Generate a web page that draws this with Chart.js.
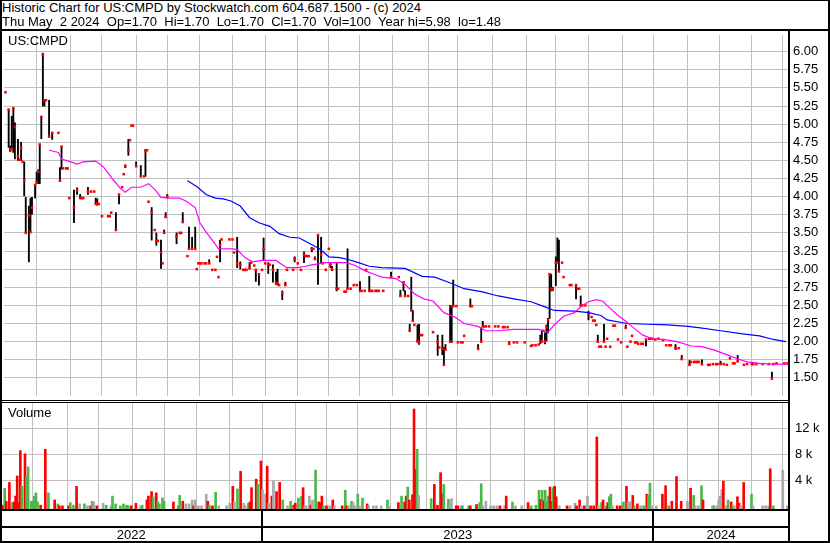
<!DOCTYPE html>
<html>
<head>
<meta charset="utf-8">
<script src="https://cdn.jsdelivr.net/npm/chart.js@4.4.1/dist/chart.umd.min.js"></script>
<style>
  body { margin: 0; background: #fff; }
  #page { position: relative; width: 830px; height: 543px; overflow: hidden;
          font-family: "Liberation Sans", Arial, sans-serif; font-size: 13px; color: #000; }
  .txt { position: absolute; white-space: pre; line-height: 14px; z-index: 3; }
  .ln { position: absolute; background: #000; z-index: 4; }
  canvas { position: absolute; left: 0; }
</style>
</head>
<body>
<div id="page">
  <div class="txt" style="left:2px;top:1px">Historic Chart for US:CMPD by Stockwatch.com 604.687.1500 - (c) 2024</div>
  <div class="txt" style="left:2px;top:15px">Thu May  2 2024  Op=1.70  Hi=1.70  Lo=1.70  Cl=1.70  Vol=100  Year hi=5.98  lo=1.48</div>
  <canvas id="price" width="830" height="369" style="top:31px"></canvas>
  <canvas id="volume" width="830" height="140" style="top:403px"></canvas>
  <div class="txt" style="left:8px;top:34px">US:CMPD</div>
  <div class="txt" style="left:8px;top:406px">Volume</div>

  <!-- frame -->
  <div class="ln" style="left:0;top:0;width:830px;height:1px"></div>
  <div class="ln" style="left:0;top:0;width:2px;height:543px"></div>
  <div class="ln" style="left:828px;top:0;width:2px;height:543px"></div>
  <div class="ln" style="left:0;top:541px;width:830px;height:2px"></div>
  <div class="ln" style="left:0;top:29px;width:830px;height:2px"></div>
  <div class="ln" style="left:788px;top:29px;width:2px;height:514px"></div>
  <div class="ln" style="left:0;top:400px;width:788px;height:1px"></div>
  <div class="ln" style="left:0;top:402px;width:788px;height:1px"></div>
  <div class="ln" style="left:0;top:509px;width:788px;height:2px"></div>
  <div class="ln" style="left:0;top:526px;width:788px;height:2px"></div>
</div>
<script>
// x unit: trading session counted from the first session shown (early May 2022)
const lastSession = 505;
const monthStarts = [21, 43, 63, 85, 105, 126, 147, 168, 189, 209, 229, 250,
                     273, 292, 314, 336, 355, 376, 398, 418, 440, 460, 481, 501];
const yearEdges = [0, 168, 418, 505];
const yearNames = ['2022', '2023', '2024'];

const priceTicks = [1.50, 1.75, 2.00, 2.25, 2.50, 2.75, 3.00, 3.25, 3.50, 3.75,
                    4.00, 4.25, 4.50, 4.75, 5.00, 5.25, 5.50, 5.75, 6.00];
const volumeTicks = [4, 8, 12];

// daily closes
const closeSessions = [
  1,3,4,5,6,7,9,10,11,12,
  13,14,16,17,18,20,21,22,23,24,
  25,26,27,29,31,35,36,37,38,40,
  41,42,45,47,49,50,51,54,56,58,
  59,60,61,63,67,68,69,72,74,76,
  77,78,80,81,82,83,85,88,90,91,
  92,93,95,97,98,99,101,102,103,104,
  105,111,113,114,115,118,119,121,123,124,
  125,126,127,129,130,132,134,136,137,138,
  139,140,145,147,148,150,152,154,155,156,
  158,159,161,162,164,166,167,168,170,171,
  173,175,176,177,179,181,182,186,187,189,
  191,193,194,195,196,198,199,200,202,204,
  205,207,209,210,211,214,215,219,220,221,
  223,225,227,229,230,232,233,235,236,237,
  239,240,241,244,249,254,255,257,258,260,
  261,262,263,264,266,267,268,269,276,279,
  280,282,283,284,287,288,289,291,292,294,
  295,296,300,301,305,307,308,309,310,312,
  316,318,321,322,324,325,328,330,335,339,
  340,342,344,345,346,347,348,349,350,351,
  352,353,355,356,357,359,360,364,365,368,
  369,370,371,372,374,376,378,379,380,381,
  382,383,384,386,387,388,390,392,393,395,
  397,400,401,403,404,406,407,408,410,411,
  413,415,416,417,419,421,424,426,428,429,
  432,434,436,441,442,444,445,446,447,449,
  453,454,456,458,459,461,463,465,467,469,
  470,472,476,478,481,482,484,488,492,494,
  495,497,502,504
];
const closes = [
  5.44,5.20,4.64,4.65,5.22,4.96,4.56,4.51,4.67,4.48,
  4.22,3.50,3.74,3.51,3.85,4.16,4.20,4.34,4.72,5.10,
  5.96,5.33,5.33,4.83,4.88,4.88,4.22,4.69,4.39,4.39,
  4.39,3.98,3.85,4.09,3.98,3.98,3.98,4.07,4.07,4.07,
  3.90,3.90,3.90,3.73,3.73,3.73,3.78,3.54,4.03,4.13,
  4.31,4.42,4.64,4.78,4.98,4.98,4.42,4.28,4.28,4.64,
  4.64,3.93,3.78,3.54,3.39,3.39,3.23,3.08,3.50,3.72,
  4.00,3.45,3.50,3.50,3.65,3.18,3.28,3.28,3.28,3.00,
  3.08,3.08,3.08,3.08,3.08,3.08,2.99,2.99,3.17,2.89,
  3.33,3.41,3.41,3.41,3.23,3.08,3.06,2.99,2.99,2.99,
  3.02,3.09,3.05,2.99,2.93,2.99,3.28,3.08,3.06,3.06,
  2.99,2.81,2.81,2.78,2.67,2.78,2.99,2.99,3.14,3.08,
  2.99,3.20,3.18,3.18,3.18,3.28,3.28,3.14,3.47,3.20,
  3.08,2.99,3.28,3.05,3.00,2.73,2.73,2.69,2.69,2.73,
  2.73,2.78,2.78,2.70,2.70,2.70,2.99,2.70,2.70,2.70,
  2.70,2.70,2.70,2.70,2.89,2.89,2.63,2.81,2.63,2.63,
  2.15,2.43,2.29,2.23,2.01,1.99,2.09,2.09,2.13,2.00,
  1.92,1.90,1.68,1.89,2.00,2.49,2.49,2.49,1.99,1.99,
  1.99,2.08,2.49,2.49,1.90,2.00,2.21,2.21,2.21,2.21,
  2.21,2.21,2.20,2.20,2.20,1.97,1.99,1.99,1.99,1.94,
  1.95,1.95,1.96,1.99,2.01,2.15,2.00,2.20,2.30,2.93,
  2.73,2.72,3.09,3.09,2.97,3.09,2.89,2.78,2.78,2.78,
  2.73,2.73,2.50,2.50,2.50,2.39,2.34,2.29,2.29,2.23,
  2.00,1.93,1.93,2.00,1.93,2.04,1.93,2.22,2.22,2.03,
  1.99,2.19,1.93,2.00,2.08,1.99,1.99,1.97,1.97,1.97,
  2.03,2.04,2.04,2.04,2.03,2.04,2.02,1.95,1.95,1.95,
  1.91,1.91,1.76,1.68,1.72,1.72,1.72,1.72,1.72,1.69,
  1.68,1.68,1.69,1.69,1.69,1.69,1.69,1.68,1.77,1.70,
  1.70,1.73,1.68,1.69,1.69,1.69,1.69,1.69,1.69,1.49,
  1.69,1.70,1.70,1.70
];

// sessions that traded through a range: high / low
const barSessions = [
  3,4,5,6,7,9,11,13,14,16,
  17,18,20,21,22,23,24,25,26,29,
  31,36,37,45,47,49,54,59,60,72,
  74,78,80,85,88,91,95,98,101,103,
  104,105,111,115,119,121,123,132,139,150,
  152,158,162,164,167,170,173,175,176,179,
  181,187,193,198,200,202,204,210,211,214,
  221,229,235,249,255,257,258,261,262,263,
  266,267,279,282,283,284,287,288,289,300,
  305,307,308,325,345,346,348,349,350,351,
  352,353,355,356,357,368,371,376,382,386,
  400,413,432,436,441,449,461,472,494
];
const barHighs = [
  5.20,4.70,5.11,5.22,5.02,4.79,4.75,4.48,3.99,3.87,
  3.98,3.99,4.17,4.34,4.37,4.72,5.10,5.98,5.33,5.33,
  4.88,4.40,4.69,4.09,4.12,4.03,4.13,3.98,3.97,3.78,
  4.03,4.44,4.79,4.48,4.43,4.64,3.85,3.50,3.40,3.54,
  3.78,4.03,3.50,3.78,3.58,3.44,3.58,3.13,3.40,3.44,
  3.10,3.09,3.00,2.93,3.43,3.09,3.06,2.96,3.00,2.70,
  2.82,3.17,3.24,3.30,3.17,3.48,3.44,3.09,3.04,3.09,
  3.28,2.83,2.90,2.96,2.71,2.83,2.70,2.24,2.89,2.43,
  2.23,2.24,2.09,2.09,1.92,1.96,2.50,2.50,2.85,2.59,
  1.96,2.19,2.28,2.00,2.09,2.15,2.12,2.23,2.32,2.93,
  2.93,2.75,3.17,3.43,3.40,2.78,2.63,2.42,2.09,2.24,
  2.23,2.03,1.96,1.81,1.74,1.75,1.73,1.81,1.58
];
const barLows = [
  4.68,4.62,4.68,4.61,4.52,4.50,4.50,4.01,3.50,3.10,
  3.51,3.76,3.98,4.18,4.18,4.18,4.80,5.25,5.25,4.82,
  4.79,4.22,4.38,3.64,4.03,3.98,4.03,3.89,3.88,3.54,
  3.90,4.40,4.57,4.42,4.28,4.28,3.40,3.33,3.01,3.50,
  3.71,3.98,3.35,3.64,3.28,3.28,3.28,3.08,3.10,3.02,
  3.00,3.00,2.83,2.78,3.13,2.94,2.82,2.79,2.78,2.58,
  2.78,3.10,3.09,3.24,3.13,2.79,3.09,3.02,2.98,2.70,
  2.73,2.69,2.70,2.89,2.63,2.70,2.63,2.15,2.43,2.28,
  1.99,1.96,1.81,1.82,1.68,1.89,1.99,1.99,2.48,2.48,
  1.90,1.99,2.21,1.96,1.97,1.99,1.97,2.01,2.12,2.32,
  2.70,2.70,2.77,3.09,2.96,2.59,2.50,2.30,1.99,2.00,
  2.18,1.94,1.89,1.75,1.68,1.68,1.69,1.72,1.48
];

// moving averages as drawn
const maShortSessions = [
  29,35,37,43,47,51,59,64,70,75,
  78,82,88,93,97,101,107,113,117,123,
  126,130,134,138,147,150,155,160,166,175,
  179,182,189,194,198,207,220,226,232,238,
  243,252,258,264,270,276,283,290,296,305,
  310,318,328,339,344,350,354,360,367,371,
  376,381,385,389,395,400,405,411,417,424,
  433,442,449,456,465,472,478,486,495,504
];
const maShort = [
  4.64,4.61,4.52,4.48,4.45,4.48,4.49,4.41,4.24,4.11,
  4.06,4.13,4.13,4.18,4.10,3.99,3.98,3.98,3.94,3.85,
  3.64,3.51,3.40,3.28,3.28,3.27,3.16,3.10,3.12,3.12,
  3.06,3.02,3.02,3.04,3.06,3.09,3.09,3.05,2.98,2.93,
  2.89,2.87,2.79,2.66,2.59,2.56,2.40,2.34,2.25,2.21,
  2.15,2.15,2.17,2.17,2.17,2.13,2.23,2.35,2.40,2.48,
  2.55,2.58,2.56,2.48,2.36,2.28,2.19,2.09,2.04,2.03,
  2.00,1.94,1.93,1.89,1.82,1.76,1.72,1.70,1.69,1.69
];
const maLongSessions = [
  118,124,130,136,141,146,152,158,164,171,
  177,184,190,196,203,209,216,222,228,235,
  243,258,269,277,286,296,307,318,328,339,
  348,354,367,376,384,388,401,414,427,440,
  448,461,474,486,495,503
];
const maLong = [
  4.22,4.14,4.03,3.98,3.97,3.94,3.87,3.71,3.64,3.59,
  3.49,3.44,3.43,3.36,3.28,3.17,3.16,3.13,3.09,3.04,
  3.02,3.01,2.90,2.89,2.82,2.73,2.69,2.63,2.59,2.55,
  2.48,2.43,2.42,2.40,2.36,2.30,2.25,2.24,2.23,2.21,
  2.19,2.15,2.11,2.08,2.03,2.00
];

// volume in thousands; d = down, u = up, n = unchanged
const volSessions = [
  2,3,4,6,8,9,10,11,12,13,
  14,16,17,18,20,21,22,23,24,26,
  29,31,35,37,38,40,44,45,47,49,
  51,54,56,58,59,60,62,66,68,71,
  72,74,77,79,81,82,84,87,90,91,
  94,95,97,98,100,101,102,104,105,111,
  114,115,117,119,121,123,124,125,127,129,
  132,133,134,136,138,140,145,147,149,150,
  152,154,156,157,159,160,161,164,165,167,
  168,170,171,172,174,175,177,179,181,184,
  186,188,189,191,193,194,195,196,198,199,
  200,202,204,205,206,207,209,211,213,214,
  219,221,222,223,225,226,227,229,230,232,
  235,236,239,241,244,248,249,255,257,259,
  260,261,262,264,265,266,267,268,276,278,
  280,282,283,284,287,288,289,292,293,295,
  296,300,301,305,307,308,309,311,314,316,
  318,320,323,324,328,330,334,338,340,343,
  345,346,347,348,349,350,351,352,353,354,
  355,356,358,363,365,368,369,371,372,374,
  376,378,380,382,383,385,386,388,389,390,
  391,392,395,397,399,401,402,403,405,406,
  408,410,412,414,415,416,417,420,424,426,
  428,430,433,436,440,442,444,445,447,449,
  450,456,457,459,460,461,462,463,465,466,
  468,469,470,472,473,474,476,481,482,488,
  490,492,493,495,501,504
];
const volValues = [
  .2,2.8,.8,3.7,.6,.7,1.6,4.7,.6,8.6,
  3.1,8.1,4.6,6.1,.8,.8,1.6,2.1,.7,.2,
  8.8,2.1,1.0,.4,.1,.1,.1,.6,.2,3.1,
  .4,.4,.1,.1,.8,.7,.1,.5,.2,.1,
  1.6,.4,.1,.4,.2,.1,.1,.5,.1,.2,
  1.0,1.6,2.3,1.5,2.1,.7,.4,1.3,.8,.7,
  .1,1.7,.8,.4,.4,1.0,.1,1.0,.1,.1,
  1.9,.8,.2,.1,2.2,.1,.1,.5,3.1,.7,
  2.7,5.4,.5,.1,.5,.7,2.9,4.2,3.4,7.0,
  2.6,1.9,6.2,.5,1.6,4.0,2.3,3.7,1.0,.1,
  .8,.2,.5,1.3,1.6,2.9,.1,.1,1.6,.2,
  1.0,5.6,.7,.6,1.6,.1,.1,.1,1.0,.1,
  .1,2.5,.1,.1,.8,.6,.1,1.9,.1,1.3,
  .4,.1,.1,.1,.1,1.0,.1,.6,1.6,.7,
  1.6,3.0,1.0,1.8,15.0,5.7,8.8,1.7,1.2,3.4,
  .2,5.2,2.0,3.4,1.1,.3,1.2,.1,.1,.1,
  .1,.1,.1,.3,.6,3.5,.1,.8,.1,.1,
  .1,.1,.1,1.6,.7,.1,.1,.6,.1,.2,
  2.5,1.1,2.5,.9,2.5,.7,1.6,3.0,.8,2.9,
  3.1,1.5,.1,.1,.1,.5,.1,1.0,.1,.1,
  1.6,.1,.1,10.7,.1,.6,1.0,.1,.6,1.5,
  1.9,.1,.1,.1,.7,3.1,.7,.7,1.7,.1,
  .4,.1,.1,1.9,1.7,3.6,.1,.1,1.9,3.2,
  .1,.8,4.6,.8,.8,2.8,1.7,.1,.1,3.2,
  1.0,.1,.1,.1,1.0,1.6,2.6,3.9,.1,1.0,
  .7,.1,.1,1.5,.5,.1,3.7,1.9,.1,.1,
  .1,.1,5.8,.1,5.6,.1
];
const volDirs = [
  'd','u','d','d','u','d','d','d','d','d',
  'u','d','u','u','u','u','u','u','u','d',
  'd','u','d','u','d','d','d','u','u','d',
  'n','u','n','d','u','n','d','n','u','n',
  'u','u','u','u','u','u','d','d','n','u',
  'd','d','d','u','d','u','u','u','u','d',
  'u','u','d','n','n','n','d','n','n','n',
  'n','d','u','d','u','n','n','n','d','n',
  'u','d','n','n','u','d','d','d','u','d',
  'n','n','d','n','d','n','d','d','u','n',
  'u','d','d','u','u','d','n','n','n','d',
  'n','u','d','d','d','u','d','n','d','n',
  'd','u','d','n','u','n','n','u','n','u',
  'd','n','n','n','n','u','n','d','u','d',
  'd','u','d','d','d','d','u','n','u','d',
  'd','d','d','u','u','n','n','d','d','n',
  'u','u','d','d','u','u','n','n','n','n',
  'n','d','n','d','u','n','n','d','u','u',
  'u','d','u','d','u','u','u','d','d','u',
  'd','d','n','d','n','n','d','d','n','d',
  'n','d','d','d','n','u','d','u','d','u',
  'u','n','d','d','u','d','n','n','d','u',
  'd','n','u','d','u','u','n','n','d','d',
  'u','d','d','d','n','d','u','n','n','u',
  'd','n','u','n','n','n','n','d','n','u',
  'd','u','n','d','d','n','d','u','n','n',
  'n','n','d','u','n','n'
];

const dirColors = { d: '#ff0000', u: '#4cb84c', n: '#a8a8a8' };
const gridColor = '#c0c0c0';
const volMin = -0.385, volMax = 15.92;

Chart.defaults.font.family = '"Liberation Sans", Arial, sans-serif';
Chart.defaults.font.size = 13;
Chart.defaults.color = '#000';

function sessionAxis() {
  return {
    type: 'linear', min: 0, max: lastSession, offset: false,
    grid: { color: gridColor, drawTicks: false, offset: false },
    border: { display: false },
    ticks: { display: false },
    afterBuildTicks: s => { s.ticks = monthStarts.map(v => ({ value: v })); },
    afterFit: s => { s.height = 0; s.paddingLeft = 0; s.paddingRight = 0; }
  };
}

function rightAxis(min, max, ticks, pad, fmt) {
  return {
    position: 'right', min: min, max: max,
    grid: { color: gridColor, drawTicks: false },
    border: { display: false },
    ticks: { padding: pad, callback: fmt },
    afterBuildTicks: s => { s.ticks = ticks.map(v => ({ value: v })); },
    afterFit: s => { s.width = 41; s.paddingTop = 0; s.paddingBottom = 0; }
  };
}

const common = {
  responsive: false,
  animation: false,
  events: [],
  plugins: { legend: { display: false }, tooltip: { enabled: false } }
};

new Chart(document.getElementById('price').getContext('2d'), {
  type: 'bar',
  data: {
    datasets: [
      {
        type: 'line', order: 0,
        data: maShortSessions.map((s, i) => ({ x: s, y: maShort[i] })),
        borderColor: '#ff00ff', borderWidth: 1.2, pointRadius: 0, fill: false, tension: 0
      },
      {
        type: 'line', order: 0,
        data: maLongSessions.map((s, i) => ({ x: s, y: maLong[i] })),
        borderColor: '#0000ff', borderWidth: 1.2, pointRadius: 0, fill: false, tension: 0
      },
      {
        type: 'scatter', order: 1,
        data: closeSessions.map((s, i) => ({ x: s, y: closes[i] })),
        pointStyle: 'rect', pointRadius: 1.8, backgroundColor: '#ff0000', borderWidth: 0
      },
      {
        type: 'bar', order: 2,
        data: barSessions.map((s, i) => ({ x: s, y: [barLows[i], barHighs[i]] })),
        backgroundColor: '#000', barThickness: 1.2, grouped: false
      }
    ]
  },
  options: Object.assign({}, common, {
    layout: { padding: 0 },
    scales: {
      x: sessionAxis(),
      y: rightAxis(1.25, 6.23, priceTicks, 4, v => Number(v).toFixed(2))
    }
  })
});

const yearStrip = {
  id: 'yearStrip',
  afterDraw(chart) {
    const ctx = chart.ctx;
    const xs = chart.scales.x;
    const top = chart.chartArea.bottom;
    ctx.save();
    ctx.fillStyle = '#000';
    yearEdges.slice(1, -1).forEach(v => {
      const x = Math.round(xs.getPixelForValue(v));
      ctx.fillRect(x - 1, top, 2, chart.height - top);
    });
    ctx.font = '13px "Liberation Sans", Arial, sans-serif';
    ctx.textAlign = 'center';
    ctx.textBaseline = 'alphabetic';
    yearNames.forEach((name, i) => {
      const a = xs.getPixelForValue(yearEdges[i]);
      const b = xs.getPixelForValue(yearEdges[i + 1]);
      ctx.fillText(name, (a + b) / 2, top + 30);
    });
    ctx.restore();
  }
};

new Chart(document.getElementById('volume').getContext('2d'), {
  type: 'bar',
  data: {
    datasets: [{
      data: volSessions.map((s, i) => ({ x: s, y: volValues[i] })),
      backgroundColor: volDirs.map(d => dirColors[d]),
      barThickness: 2, base: volMin, grouped: false
    }]
  },
  options: Object.assign({}, common, {
    layout: { padding: { bottom: 34 } },
    scales: {
      x: sessionAxis(),
      y: rightAxis(volMin, volMax, volumeTicks, 6, v => v + ' k')
    }
  }),
  plugins: [yearStrip]
});
</script>
</body>
</html>
